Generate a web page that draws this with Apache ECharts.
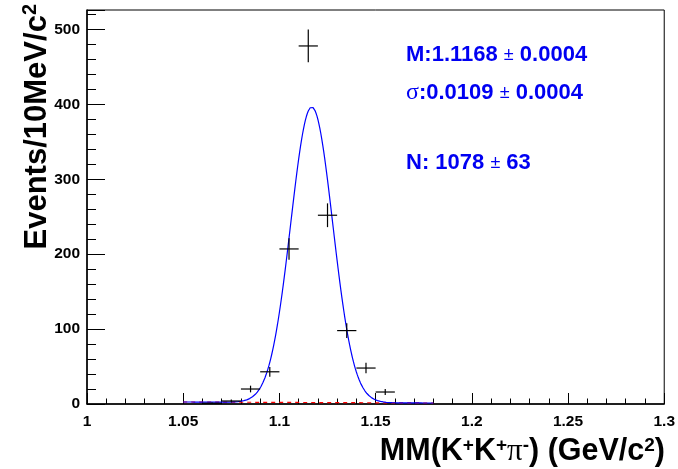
<!DOCTYPE html>
<html>
<head>
<meta charset="utf-8">
<script src="https://cdn.jsdelivr.net/npm/echarts@6/dist/echarts.min.js"></script>
<style>
  html, body { margin: 0; padding: 0; background: #fff; }
  #chart { width: 678px; height: 469px; }
</style>
</head>
<body>
<div id="chart"></div>
<script>
// Histogram: bin centres (GeV/c^2) and event counts per 10 MeV/c^2 bin
const binCenters = [1.055, 1.065, 1.075, 1.085, 1.095, 1.105, 1.115, 1.125, 1.135, 1.145, 1.155, 1.165, 1.175];
const counts     = [0, 1, 4, 20, 43, 207, 478, 252, 98, 48, 16, 0, 0];
const binWidth = 0.01;

// Fit result: Gaussian signal on a linear background
const fitMean = 1.1168;
const fitSigma = 0.0109;
const fitYield = 1078;
const fitRange = [1.05, 1.18];
const bkgEnds = [2.7, 1.3];          // background level at the two ends of the fit range

// Axis ticks
const xTicks = ['1', '1.05', '1.1', '1.15', '1.2', '1.25', '1.3'];
const yTicks = [0, 100, 200, 300, 400, 500];

// Text shown on the plot
const statLines = [
  { label: 'M:', value: '1.1168', err: '0.0004' },
  { label: 'σ', value: ':0.0109', err: '0.0004' },
  { label: 'N: ', value: '1078', err: '63' }
];

const SANS = '"Liberation Sans", Arial, Helvetica, sans-serif';
const SERIF = '"Liberation Serif", "DejaVu Serif", serif';
const TEXT_BLUE = '#0000f2';

function bkgAt(x) {
  const f = (x - fitRange[0]) / (fitRange[1] - fitRange[0]);
  return bkgEnds[0] + f * (bkgEnds[1] - bkgEnds[0]);
}
function fitAt(x) {
  const amp = fitYield * binWidth / (fitSigma * Math.sqrt(2 * Math.PI));
  const z = (x - fitMean) / fitSigma;
  return amp * Math.exp(-0.5 * z * z) + bkgAt(x);
}

const fitCurve = [];
for (let i = 0; i <= 260; i++) {
  const x = fitRange[0] + (fitRange[1] - fitRange[0]) * i / 260;
  fitCurve.push([x, fitAt(x)]);
}
const bkgLine = [[fitRange[0], bkgAt(fitRange[0])], [fitRange[1], bkgAt(fitRange[1])]];
const histData = binCenters.map((c, i) => [c, counts[i]]);

const yMax = 526;
const labelStyle = { color: '#000', fontFamily: SANS, fontWeight: 'bold', fontSize: 15.5 };

const chart = echarts.init(document.getElementById('chart'), null, { renderer: 'canvas' });

const statGraphics = statLines.map((s, i) => {
  const ys = [55, 93, 163];
  const rich = {
    b: { fontFamily: SANS, fontWeight: 'bold', fontSize: 22, fill: TEXT_BLUE },
    g: { fontFamily: SERIF, fontSize: 24, fill: TEXT_BLUE },
    pm: { fontFamily: SANS, fontSize: 18, fill: TEXT_BLUE }
  };
  const head = s.label === 'σ' ? '{g|σ}' : '{b|' + s.label + '}';
  return {
    type: 'text', x: 406, y: ys[i],
    style: {
      text: head + '{b|' + s.value + ' }{pm|±}{b| ' + s.err + '}',
      rich: rich, verticalAlign: 'middle', align: 'left'
    }
  };
});

chart.setOption({
  animation: false,
  backgroundColor: '#fff',
  grid: { left: 87, right: 12, top: 10, bottom: 65, show: true, borderColor: '#000', borderWidth: 1, backgroundColor: 'transparent' },
  xAxis: {
    type: 'value', min: 1, max: 1.3, interval: 0.05,
    axisLine: { onZero: false, lineStyle: { color: '#000', width: 1.5 } },
    axisTick: { inside: true, length: 11, lineStyle: { color: '#000', width: 1 } },
    minorTick: { show: true, splitNumber: 5, length: 5.5, lineStyle: { color: '#000', width: 1 } },
    splitLine: { show: false },
    axisLabel: Object.assign({ margin: 10, formatter: (v) => { const i = Math.round((v - 1) / 0.05); return xTicks[i] || ''; } }, labelStyle)
  },
  yAxis: [
    {
      type: 'value', min: 0, max: yMax, interval: 20,
      axisLine: { show: true, onZero: false, lineStyle: { color: '#000', width: 1.5 } },
      axisTick: { inside: true, length: 9, lineStyle: { color: '#000', width: 1 } },
      splitLine: { show: false },
      axisLabel: Object.assign({ margin: 7, showMaxLabel: false, formatter: (v) => yTicks.indexOf(v) >= 0 ? String(v) : '' }, labelStyle)
    },
    {
      type: 'value', min: 0, max: yMax, interval: 100, position: 'left',
      axisLine: { show: false },
      axisTick: { show: true, inside: true, length: 18, lineStyle: { color: '#000', width: 1 } },
      splitLine: { show: false },
      axisLabel: { show: false }
    }
  ],
  series: [
    {
      type: 'line', data: bkgLine, yAxisIndex: 0, showSymbol: false, silent: true, z: 2,
      lineStyle: { color: '#ff0000', width: 1.2, type: [4, 4] }
    },
    {
      type: 'line', data: fitCurve, yAxisIndex: 0, showSymbol: false, silent: true, z: 3,
      lineStyle: { color: '#0000ff', width: 1.2 }
    },
    {
      type: 'custom', data: histData, yAxisIndex: 0, z: 4,
      encode: { x: 0, y: 1 },
      renderItem: function (params, api) {
        const x = api.value(0), y = api.value(1);
        if (!(y > 0)) return null;
        const e = Math.sqrt(y);
        const half = binWidth / 2;
        const l = api.coord([x - half, y]), r = api.coord([x + half, y]);
        const t = api.coord([x, y + e]), b = api.coord([x, Math.max(0, y - e)]);
        const st = { stroke: '#000', lineWidth: 1.2 };
        return {
          type: 'group',
          children: [
            { type: 'line', shape: { x1: l[0], y1: l[1], x2: r[0], y2: r[1] }, style: st },
            { type: 'line', shape: { x1: t[0], y1: t[1], x2: b[0], y2: b[1] }, style: st }
          ]
        };
      }
    }
  ],
  graphic: [
    // y-axis title, reading upward, ending near the top of the frame
    {
      type: 'text', x: 37, y: 4, rotation: Math.PI / 2,
      style: {
        text: '{m|Events/10MeV/c}{s|2}',
        align: 'right', verticalAlign: 'middle',
        rich: {
          m: { fontFamily: SANS, fontWeight: 'bold', fontSize: 31, fill: '#000' },
          s: { fontFamily: SANS, fontWeight: 'bold', fontSize: 20, fill: '#000', verticalAlign: 'top', padding: [0, 0, 13, 0] }
        }
      }
    },
    // x-axis title, right aligned to the end of the axis
    {
      type: 'text', x: 665, y: 452,
      style: {
        text: '{m|MM(K}{s|+}{m|K}{s|+}{p|π}{s|-}{m|) (GeV/c}{s|2}{m|)}',
        align: 'right', verticalAlign: 'middle',
        rich: {
          m: { fontFamily: SANS, fontWeight: 'bold', fontSize: 30.5, fill: '#000' },
          p: { fontFamily: SERIF, fontSize: 31, fill: '#000' },
          s: { fontFamily: SANS, fontWeight: 'bold', fontSize: 19, fill: '#000', verticalAlign: 'top', padding: [0, 0, 13, 0] }
        }
      }
    }
  ].concat(statGraphics)
});
</script>
</body>
</html>
